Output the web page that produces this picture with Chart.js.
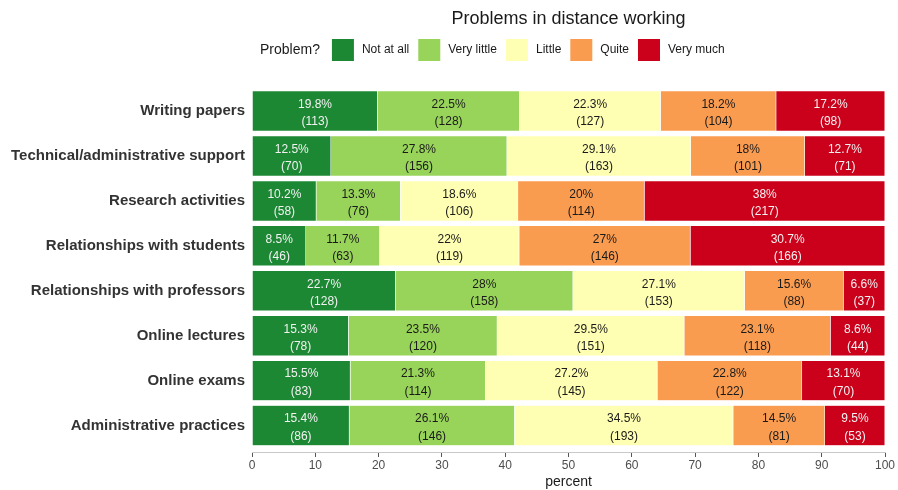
<!DOCTYPE html>
<html>
<head>
<meta charset="utf-8">
<script src="https://cdn.jsdelivr.net/npm/chart.js@4.4.1/dist/chart.umd.min.js"></script>
<style>
  html, body { margin: 0; padding: 0; background: #fff; }
  #wrap { width: 898px; height: 490px; }
</style>
</head>
<body>
<div id="wrap"><canvas id="problemsChart"></canvas></div>
<script>
// answers per item, top to bottom
const categories = [
    'Writing papers',
    'Technical/administrative support',
    'Research activities',
    'Relationships with students',
    'Relationships with professors',
    'Online lectures',
    'Online exams',
    'Administrative practices'
];
const levels = ['Not at all', 'Very little', 'Little', 'Quite', 'Very much'];

// counts of answers
const countsNotAtAll = [113, 70, 58, 46, 128, 78, 83, 86];
const countsVeryLittle = [128, 156, 76, 63, 158, 120, 114, 146];
const countsLittle = [127, 163, 106, 119, 153, 151, 145, 193];
const countsQuite = [104, 101, 114, 146, 88, 118, 122, 81];
const countsVeryMuch = [98, 71, 217, 166, 37, 44, 70, 53];

// printed percentages
const pctNotAtAll = ['19.8%', '12.5%', '10.2%', '8.5%', '22.7%', '15.3%', '15.5%', '15.4%'];
const pctVeryLittle = ['22.5%', '27.8%', '13.3%', '11.7%', '28%', '23.5%', '21.3%', '26.1%'];
const pctLittle = ['22.3%', '29.1%', '18.6%', '22%', '27.1%', '29.5%', '27.2%', '34.5%'];
const pctQuite = ['18.2%', '18%', '20%', '27%', '15.6%', '23.1%', '22.8%', '14.5%'];
const pctVeryMuch = ['17.2%', '12.7%', '38%', '30.7%', '6.6%', '8.6%', '13.1%', '9.5%'];

const xTicks = [0, 10, 20, 30, 40, 50, 60, 70, 80, 90, 100];

const colors = ['#1c8833', '#98d45a', '#ffffb3', '#fa9c50', '#cb001a'];
const labelColors = ['#f2f2f2', '#1a1a1a', '#1a1a1a', '#1a1a1a', '#f2f2f2'];

const allCounts = [countsNotAtAll, countsVeryLittle, countsLittle, countsQuite, countsVeryMuch];
const allPct = [pctNotAtAll, pctVeryLittle, pctLittle, pctQuite, pctVeryMuch];

const rowTotals = categories.map((c, i) => allCounts.reduce((s, arr) => s + arr[i], 0));

const FONT = '"Liberation Sans", Arial, Helvetica, sans-serif';
Chart.defaults.font.family = FONT;

// two-line labels inside each segment
const barLabels = {
    id: 'barLabels',
    afterDatasetsDraw(chart) {
        const ctx = chart.ctx;
        ctx.save();
        ctx.font = '12px ' + FONT;
        ctx.textAlign = 'center';
        ctx.textBaseline = 'middle';
        chart.data.datasets.forEach((ds, di) => {
            const meta = chart.getDatasetMeta(di);
            meta.data.forEach((bar, i) => {
                const cx = (bar.x + bar.base) / 2;
                ctx.fillStyle = labelColors[di];
                ctx.fillText(allPct[di][i], cx, bar.y - 6.5);
                ctx.fillText('(' + allCounts[di][i] + ')', cx, bar.y + 11);
            });
        });
        ctx.restore();
    }
};

// ggplot-style legend row with its title on the left
const legendRow = {
    id: 'legendRow',
    afterDraw(chart) {
        const ctx = chart.ctx;
        const y = 50;
        let x = chart.chartArea.left + 8;
        ctx.save();
        ctx.textBaseline = 'middle';
        ctx.textAlign = 'left';
        ctx.fillStyle = '#1a1a1a';
        ctx.font = '14px ' + FONT;
        ctx.fillText('Problem?', x, y);
        x += ctx.measureText('Problem?').width + 12;
        ctx.font = '12px ' + FONT;
        chart.data.datasets.forEach(ds => {
            ctx.fillStyle = ds.backgroundColor;
            ctx.fillRect(x, y - 11, 22, 22);
            x += 30;
            ctx.fillStyle = '#1a1a1a';
            ctx.fillText(ds.label, x, y);
            x += ctx.measureText(ds.label).width + 9;
        });
        ctx.restore();
    }
};

const ctx = document.getElementById('problemsChart').getContext('2d');

new Chart(ctx, {
    type: 'bar',
    data: {
        labels: categories,
        datasets: levels.map((lv, di) => ({
            label: lv,
            data: allCounts[di].map((n, i) => n / rowTotals[i] * 100),
            backgroundColor: colors[di],
            borderColor: 'rgba(255,255,255,0.5)',
            borderWidth: 0.5,
            categoryPercentage: 0.9,
            barPercentage: 1
        }))
    },
    options: {
        indexAxis: 'y',
        responsive: true,
        maintainAspectRatio: false,
        animation: false,
        layout: {
            padding: { left: 0, right: 13, top: 0, bottom: 42 }
        },
        plugins: {
            legend: { display: false },
            tooltip: { enabled: false },
            title: {
                display: true,
                fullSize: false,
                text: 'Problems in distance working',
                color: '#1a1a1a',
                font: { size: 18, weight: 'normal' },
                padding: { top: 8, bottom: 59 }
            }
        },
        scales: {
            x: {
                stacked: true,
                min: 0,
                max: 100,
                position: { y: 7.6 },
                afterBuildTicks: scale => {
                    scale.ticks = xTicks.map(v => ({ value: v }));
                },
                afterFit: scale => { scale.height = 42.6; },
                grid: {
                    drawOnChartArea: false,
                    drawTicks: true,
                    tickLength: 4,
                    color: '#555'
                },
                border: { display: true, color: '#c8c8c8', width: 1 },
                ticks: {
                    color: '#4d4d4d',
                    font: { size: 12 },
                    padding: 2
                },
                title: {
                    display: true,
                    text: 'percent',
                    color: '#1a1a1a',
                    font: { size: 14 },
                    padding: { top: 0, bottom: 5 }
                }
            },
            y: {
                stacked: true,
                afterFit: scale => { scale.width = 252; },
                grid: { display: false, drawTicks: false },
                border: { display: false },
                ticks: {
                    color: '#333',
                    font: { size: 15, weight: 'bold' },
                    padding: 7
                }
            }
        }
    },
    plugins: [barLabels, legendRow]
});
</script>
</body>
</html>
